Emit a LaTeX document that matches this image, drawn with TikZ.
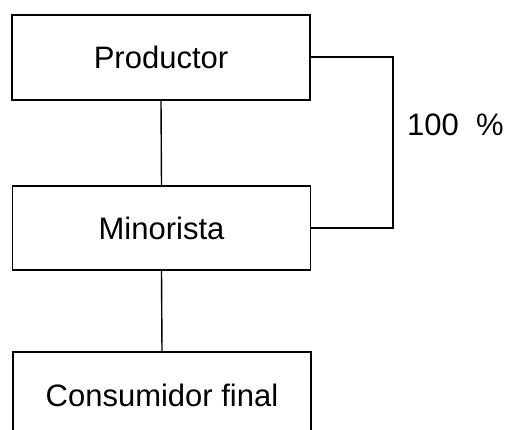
\documentclass[tikz,border=0pt]{standalone}
\usepackage{fontspec}
\setmainfont{Liberation Sans}
\usetikzlibrary{positioning}

\begin{document}
\begin{tikzpicture}[x=1pt,y=-1pt,
  box/.style={draw,line width=1.5pt,minimum width=298pt,inner sep=0pt,font=\fontsize{31}{37}\selectfont},
  link/.style={line width=1.4pt}]

  \useasboundingbox (0,0) rectangle (509,430);

  % Boxes
  \node[box,minimum height=85pt] (prod) at (161,57.5) {Productor};
  \node[box,minimum height=84pt] (mino) at (161.5,228) {Minorista};
  \node[box,minimum height=86pt] (cons) at (162,395) {Consumidor final};

  % Links
  \draw[link] (prod.south) -- (mino.north);
  \draw[link] (mino.south) -- (cons.north);
  \coordinate (c1) at (393,57);
  \coordinate (c2) at (393,228);
  \draw[link] (prod.east |- c1) -- (c1) -- (c2) -- (mino.east |- c2);

  % Label
  \node[anchor=west,inner sep=0pt,font=\fontsize{31}{37}\selectfont] (pct) at (407,125) {100~~\%};
\end{tikzpicture}
\end{document}
